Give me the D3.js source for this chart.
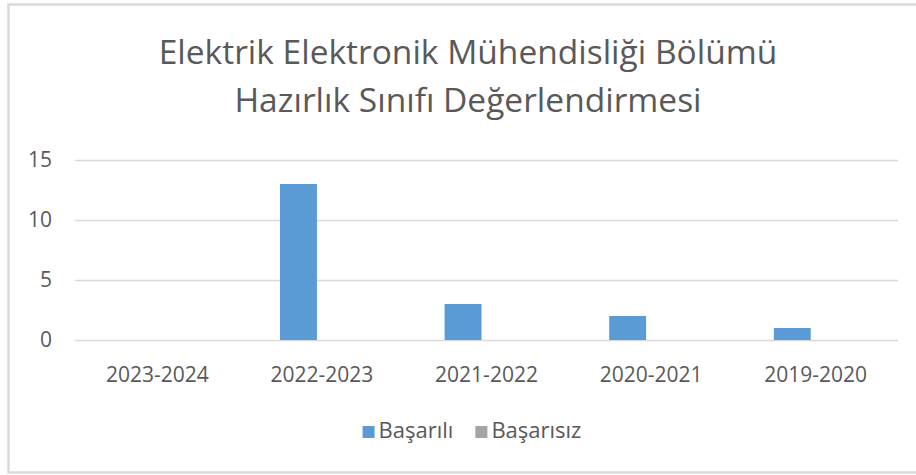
<!DOCTYPE html>
<html>
<head>
<meta charset="utf-8">
<script src="https://cdn.jsdelivr.net/npm/d3@7"></script>
<style>
  body { margin: 0; background: #fff; }
  text { font-family: "Open Sans", sans-serif; fill: #595959; }
</style>
</head>
<body>
<svg id="chart" width="916" height="475"></svg>
<script>
let width = 916, height = 475;

// data
const categories = ["2023-2024", "2022-2023", "2021-2022", "2020-2021", "2019-2020"];
const seriesNames = ["Başarılı", "Başarısız"];
const basarili = [0, 13, 3, 2, 1];
const basarisiz = [0, 0, 0, 0, 0];
const yTicks = [0, 5, 10, 15];
const titleLines = ["Elektrik Elektronik Mühendisliği Bölümü", "Hazırlık Sınıfı Değerlendirmesi"];

const colors = { "Başarılı": "#5b9bd5", "Başarısız": "#a5a5a5" };

var rows = categories.map((c, i) => ({ cat: c, values: [
  { name: seriesNames[0], value: basarili[i] },
  { name: seriesNames[1], value: basarisiz[i] }
]}));

var svg = d3.select("#chart");

// chart frame (right side runs off the screenshot)
svg.append("rect")
  .attr("x", 8.5).attr("y", 4.5)
  .attr("width", 1000).attr("height", 468)
  .attr("fill", "#fff")
  .attr("stroke", "#d9d9d9")
  .attr("stroke-width", 2.5);

var plot = { left: 75, right: 898, top: 160, bottom: 340 };

var x0 = d3.scaleBand()
  .domain(categories)
  .range([plot.left, plot.right]);

// excel style: gap width 219%, overlap -27%
var bw = x0.bandwidth();
var barW = bw / (2 + 0.27 + 2.19);
var groupW = barW * 2.27;
var x1 = d3.scaleBand()
  .domain(seriesNames)
  .range([(bw - groupW) / 2, (bw + groupW) / 2])
  .paddingInner(0.27 / 1.27);

var y = d3.scaleLinear()
  .domain([0, 15])
  .range([plot.bottom, plot.top]);

//gridlines + y labels
var yAxis = svg.append("g")
  .attr("transform", "translate(" + plot.left + ",0)")
  .call(d3.axisLeft(y).tickValues(yTicks)
    .tickSizeInner(-(plot.right - plot.left))
    .tickSizeOuter(0)
    .tickPadding(23));
yAxis.select(".domain").remove();
yAxis.selectAll("line").attr("stroke", "#d9d9d9").attr("stroke-width", 1.5);
yAxis.selectAll("text")
  .style("font-family", '"Open Sans", sans-serif')
  .style("font-size", "21px")
  .attr("fill", "#595959");

//bars
var groups = svg.append("g").selectAll("g")
  .data(rows)
  .enter().append("g")
  .attr("transform", (d) => "translate(" + x0(d.cat) + ",0)");

groups.selectAll("rect")
  .data((d) => d.values)
  .enter().append("rect")
  .attr("x", (d) => x1(d.name))
  .attr("width", x1.bandwidth())
  .attr("y", (d) => y(d.value))
  .attr("height", (d) => y(0) - y(d.value))
  .attr("fill", (d) => colors[d.name]);

//x labels
var xAxis = svg.append("g")
  .attr("transform", "translate(0," + plot.bottom + ")")
  .call(d3.axisBottom(x0).tickSize(0).tickPadding(27));
xAxis.select(".domain").remove();
xAxis.selectAll("text")
  .style("font-family", '"Open Sans", sans-serif')
  .style("font-size", "21px")
  .attr("fill", "#595959");

//title
svg.append("g").selectAll("text")
  .data(titleLines)
  .enter().append("text")
  .attr("x", 468)
  .attr("y", (d, i) => 64 + i * 48)
  .attr("text-anchor", "middle")
  .style("font-size", "33.5px")
  .text((d) => d);

//legend
var legend = svg.append("g");
var items = legend.selectAll("g")
  .data(seriesNames)
  .enter().append("g");
items.append("rect")
  .attr("width", 12).attr("height", 12)
  .attr("y", -12)
  .attr("fill", (d) => colors[d]);
items.append("text")
  .attr("x", 16)
  .style("font-size", "22px")
  .text((d) => d);

var offset = 0;
items.each(function() {
  var g = d3.select(this);
  g.attr("transform", "translate(" + offset + ",0)");
  offset += 16 + g.select("text").node().getComputedTextLength() + 22;
});
offset -= 22;
legend.attr("transform", "translate(" + (472 - offset / 2) + ",438)");
</script>
</body>
</html>
